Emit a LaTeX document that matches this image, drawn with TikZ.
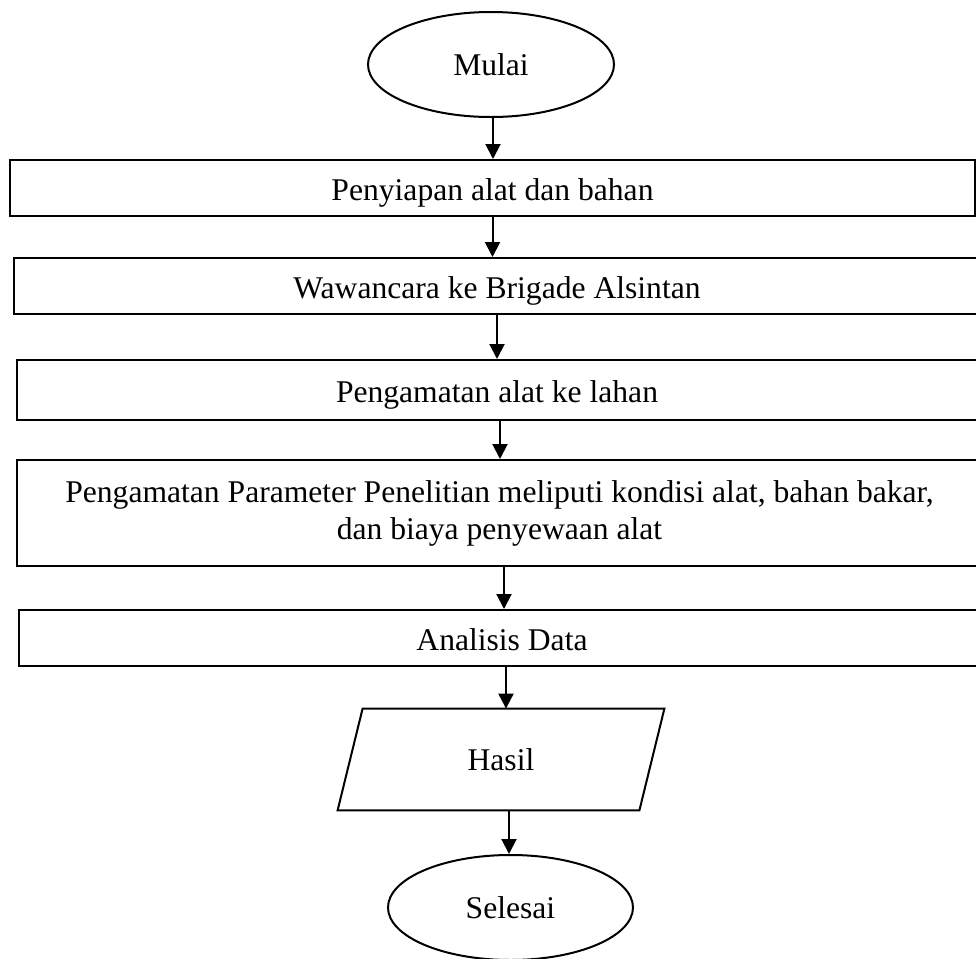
\documentclass[tikz,border=0pt]{standalone}
\usepackage{fontspec}
\setmainfont{Liberation Serif}
\usetikzlibrary{arrows.meta,shapes.geometric}
\begin{document}
\begin{tikzpicture}[x=0.5pt,y=-0.5pt,
  every node/.style={font=\fontsize{15.8}{16.5}\selectfont},
  outline/.style={draw=black, line width=1pt},
  boxa/.style={outline, rectangle, inner sep=0pt, text height=14pt, text depth=2pt},
  boxb/.style={outline, rectangle, inner sep=0pt, align=center, font=\fontsize{15.8}{18.5}\selectfont},
  term/.style={outline, ellipse, inner sep=0pt},
  arr/.style={line width=1pt, -{Triangle[width=7.5pt,length=7.5pt]}}
]
\useasboundingbox (0,0) rectangle (976,959);
\clip (0,0) rectangle (976,959);

\node[term, minimum width=123pt, minimum height=52.5pt] (mulai) at (491,64.5) {Mulai};
\node[boxa, minimum width=482.5pt, minimum height=28pt] (b1) at (492.5,188) {Penyiapan alat dan bahan};
\node[boxa, minimum width=483pt, minimum height=28pt] (b2) at (497,286) {Wawancara ke Brigade Alsintan};
\node[boxa, minimum width=480pt, minimum height=30pt] (b3) at (497,390) {Pengamatan alat ke lahan};
\node[boxb, minimum width=482.5pt, minimum height=53pt] (b4) at (499.5,513) {Pengamatan Parameter Penelitian meliputi kondisi alat, bahan bakar,\\ dan biaya penyewaan alat};
\node[boxa, minimum width=483pt, minimum height=28pt] (b5) at (502,638) {Analisis Data};
\node[rectangle, inner sep=0pt, minimum width=150.5pt, minimum height=50.5pt] (hasil) at (501,759.5) {Hasil};
\draw[outline] ([xshift=6.25pt]hasil.north west) -- ([xshift=6.25pt]hasil.north east)
  -- ([xshift=-6.25pt]hasil.south east) -- ([xshift=-6.25pt]hasil.south west) -- cycle;
\node[term, minimum width=122.5pt, minimum height=52.5pt] (selesai) at (510.5,907.5) {Selesai};

\draw[arr] ([xshift=1pt]mulai.south) -- ([xshift=1pt]mulai.south |- b1.north);
\draw[arr] (b1.south) -- (b1.south |- b2.north);
\draw[arr] (b2.south) -- (b2.south |- b3.north);
\draw[arr] ([xshift=1.5pt]b3.south) -- ([xshift=1.5pt]b3.south |- b4.north);
\draw[arr] ([xshift=2.25pt]b4.south) -- ([xshift=2.25pt]b4.south |- b5.north);
\draw[arr] ([xshift=2pt]b5.south) -- ([xshift=2pt]b5.south |- hasil.north);
\draw[arr] ([xshift=4pt]hasil.south) -- ([xshift=4pt]hasil.south |- selesai.north);
\end{tikzpicture}
\end{document}
